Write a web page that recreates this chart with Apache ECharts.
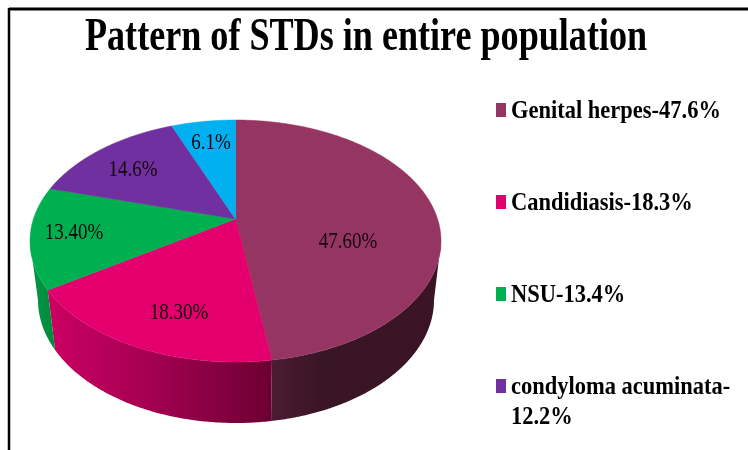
<!DOCTYPE html>
<html>
<head>
<meta charset="utf-8">
<script src="https://cdn.jsdelivr.net/npm/echarts@6/dist/echarts.min.js"></script>
<style>
  html, body { margin: 0; padding: 0; background: #fff; }
  #main { width: 748px; height: 450px; }
</style>
</head>
<body>
<div id="main"></div>
<script>
// data
var categories = ["Genital herpes", "Candidiasis", "NSU", "condyloma acuminata", "other"];
var sliceValues = [47.6, 18.3, 13.4, 14.6, 6.1];
var sliceLabels = ["47.60%", "18.30%", "13.40%", "14.6%", "6.1%"];
var legendLabels = ["Genital herpes-47.6%", "Candidiasis-18.3%", "NSU-13.4%", "condyloma acuminata-\n12.2%"];
var titleText = "Pattern of STDs in entire population";

// colours
var topColors = ["#953562", "#e3006e", "#00b050", "#7030a0", "#00b0f0"];
var wallStops = [
  ["#4c1b32", "#3a1525", "#3a1424"],
  ["#cc0062", "#a00050", "#6c0032"],
  ["#009a46", "#009040", "#008a3c"],
  null,
  null
];

// pie layout (tilted ellipse, apex sits above the ellipse centre)
var cx = 235.5, cy = 241, rx = 205.5, ry = 121;
var apexY = -22 / 121;
var baseCx = 236, baseCy = 300, baseRx = 198, baseRy = 123;
var labelPos = [[348, 242], [179, 313], [74, 233], [133, 170], [211, 143]];
var total = sliceValues.reduce(function (a, b) { return a + b; }, 0);

// normalised point on the rim for a share t (0..1, clockwise from 12 o'clock)
function rim(t) {
  var ang = t * Math.PI * 2;
  var dx = Math.sin(ang), dy = -Math.cos(ang);
  var b = apexY * dy;
  var s = -b + Math.sqrt(b * b - (apexY * apexY - 1));
  return [s * dx, apexY + s * dy];
}

function startOf(i) {
  var sum = 0;
  for (var k = 0; k < i; k++) sum += sliceValues[k];
  return sum / total;
}

function renderWall(params, api) {
  var i = params.dataIndex;
  var stops = wallStops[i];
  if (!stops) return;
  var t0 = startOf(i), t1 = t0 + api.value(0) / total;
  var upper = [], lower = [];
  var n = Math.ceil((t1 - t0) * 720);
  for (var k = 0; k <= n; k++) {
    var p = rim(t0 + (t1 - t0) * k / n);
    if (p[1] < 0) continue;
    upper.push([cx + rx * p[0], cy + ry * p[1]]);
    lower.unshift([baseCx + baseRx * p[0], baseCy + baseRy * Math.sqrt(1 - p[0] * p[0])]);
  }
  var pts = upper.concat(lower);
  var xs = pts.map(function (q) { return q[0]; });
  return {
    type: "polygon",
    shape: { points: pts },
    style: {
      fill: {
        type: "linear", global: true,
        x: Math.min.apply(null, xs), y: 0, x2: Math.max.apply(null, xs), y2: 0,
        colorStops: i === 0
          ? [{ offset: 0, color: stops[0] }, { offset: 0.3, color: stops[1] }, { offset: 1, color: stops[2] }]
          : [{ offset: 0, color: stops[0] }, { offset: 0.5, color: stops[1] }, { offset: 1, color: stops[2] }]
      }
    }
  };
}

function renderTop(params, api) {
  var i = params.dataIndex;
  var t0 = startOf(i), t1 = t0 + api.value(0) / total;
  var pts = [[cx, cy + ry * apexY]];
  var n = Math.ceil((t1 - t0) * 720);
  for (var k = 0; k <= n; k++) {
    var p = rim(t0 + (t1 - t0) * k / n);
    pts.push([cx + rx * p[0], cy + ry * p[1]]);
  }
  return {
    type: "group",
    children: [
      {
        type: "polygon",
        shape: { points: pts },
        style: { fill: topColors[i], stroke: topColors[i], lineWidth: 0.5 }
      },
      {
        type: "text",
        x: labelPos[i][0], y: labelPos[i][1],
        scaleX: 0.79,
        z2: 10,
        style: {
          text: sliceLabels[i],
          font: "24px 'Liberation Serif'",
          fill: "#14060c",
          align: "center",
          verticalAlign: "middle"
        }
      }
    ]
  };
}

var legendY = [110, 202, 294, 386];
var graphics = [
  { type: "line", shape: { x1: 9, y1: 9, x2: 748, y2: 9 }, style: { stroke: "#000", lineWidth: 3 } },
  { type: "line", shape: { x1: 9, y1: 8, x2: 9, y2: 450 }, style: { stroke: "#000", lineWidth: 2.5 } },
  {
    type: "text", x: 85, y: 38, scaleX: 0.785,
    style: { text: titleText, font: "bold 46px 'Liberation Serif'", fill: "#000", align: "left", verticalAlign: "middle" }
  }
];
legendLabels.forEach(function (txt, i) {
  graphics.push({
    type: "rect",
    shape: { x: 496, y: legendY[i] - 7, width: 10, height: 14 },
    style: { fill: topColors[i] }
  });
  graphics.push({
    type: "text", x: 511, y: legendY[i] - 14, scaleX: 0.865,
    style: { text: txt, font: "bold 26px 'Liberation Serif'", fill: "#000", lineHeight: 30, align: "left", verticalAlign: "top" }
  });
});

var chart = echarts.init(document.getElementById("main"), null, { renderer: "canvas" });
var rows = sliceValues.map(function (v, i) { return { name: categories[i], value: [v] }; });
chart.setOption({
  backgroundColor: "#fff",
  animation: false,
  graphic: graphics,
  series: [
    { type: "custom", coordinateSystem: "none", silent: true, renderItem: renderWall, data: rows, z: 1 },
    { type: "custom", coordinateSystem: "none", silent: true, renderItem: renderTop, data: rows, z: 2 }
  ]
});
</script>
</body>
</html>
